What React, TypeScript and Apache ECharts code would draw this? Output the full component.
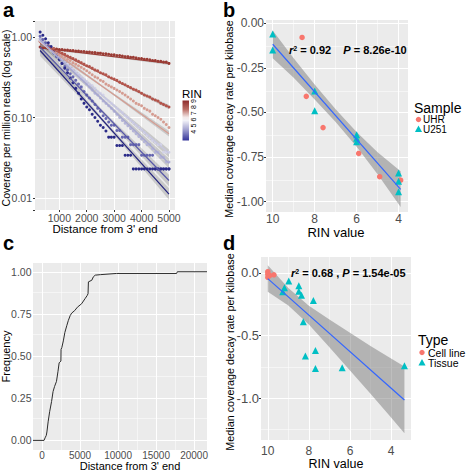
import React, { useEffect, useRef } from 'react';
import * as echarts from 'echarts';

const FONT = '"Liberation Sans", Arial, Helvetica, sans-serif';

// ---------------- Panel a: coverage vs distance, by RIN ----------------
const distA = [300, 400, 500, 600, 700, 800, 900, 1000, 1100, 1200, 1300, 1400, 1500, 1600, 1700, 1800, 1900, 2000, 2100, 2200, 2300, 2400, 2500, 2600, 2700, 2800, 2900, 3000, 3100, 3200, 3300, 3400, 3500, 3600, 3700, 3800, 3900, 4000, 4100, 4200, 4300, 4400, 4500, 4600, 4700, 4800, 4900, 5000];
const covRin10 = [0.75, 0.73, 0.74, 0.72, 0.72, 0.71, 0.71, 0.70, 0.70, 0.69, 0.69, 0.68, 0.68, 0.67, 0.67, 0.66, 0.66, 0.65, 0.65, 0.64, 0.64, 0.63, 0.63, 0.62, 0.62, 0.61, 0.60, 0.60, 0.59, 0.59, 0.58, 0.57, 0.57, 0.56, 0.56, 0.55, 0.54, 0.54, 0.53, 0.53, 0.52, 0.51, 0.51, 0.50, 0.50, 0.49, 0.49, 0.47];
const covRin9 = [0.88, 0.84, 0.80, 0.78, 0.74, 0.72, 0.68, 0.66, 0.63, 0.61, 0.58, 0.56, 0.54, 0.52, 0.50, 0.48, 0.46, 0.44, 0.43, 0.41, 0.39, 0.38, 0.36, 0.35, 0.34, 0.32, 0.31, 0.30, 0.29, 0.275, 0.265, 0.255, 0.245, 0.235, 0.225, 0.22, 0.21, 0.20, 0.19, 0.185, 0.18, 0.17, 0.165, 0.16, 0.15, 0.145, 0.14, 0.135];
const covRin8 = [0.89, 0.85, 0.81, 0.76, 0.73, 0.69, 0.66, 0.62, 0.59, 0.56, 0.53, 0.51, 0.48, 0.46, 0.44, 0.42, 0.40, 0.38, 0.36, 0.34, 0.32, 0.31, 0.29, 0.28, 0.26, 0.25, 0.24, 0.23, 0.22, 0.21, 0.20, 0.19, 0.18, 0.17, 0.16, 0.15, 0.145, 0.14, 0.13, 0.125, 0.12, 0.11, 0.105, 0.10, 0.095, 0.088, 0.082, 0.075];
const covRin7 = [0.91, 0.85, 0.80, 0.74, 0.69, 0.65, 0.61, 0.56, 0.53, 0.49, 0.46, 0.43, 0.40, 0.37, 0.35, 0.32, 0.30, 0.28, 0.26, 0.25, 0.23, 0.21, 0.20, 0.19, 0.17, 0.16, 0.15, 0.14, 0.13, 0.12, 0.115, 0.105, 0.10, 0.092, 0.086, 0.08, 0.075, 0.07, 0.065, 0.06, 0.056, 0.052, 0.049, 0.046, 0.046, 0.037, 0.037, 0.037];
const covRin6 = [0.95, 0.88, 0.82, 0.76, 0.70, 0.65, 0.60, 0.56, 0.52, 0.48, 0.44, 0.41, 0.38, 0.35, 0.33, 0.30, 0.28, 0.26, 0.24, 0.22, 0.20, 0.19, 0.175, 0.16, 0.15, 0.14, 0.13, 0.12, 0.11, 0.10, 0.092, 0.085, 0.079, 0.073, 0.068, 0.063, 0.058, 0.054, 0.050, 0.046, 0.046, 0.041, 0.037, 0.037, 0.032, 0.032, 0.028, 0.028];
const covRin5 = [1.02, 0.93, 0.85, 0.77, 0.70, 0.63, 0.57, 0.52, 0.47, 0.43, 0.39, 0.35, 0.32, 0.29, 0.26, 0.24, 0.21, 0.19, 0.175, 0.16, 0.145, 0.13, 0.12, 0.105, 0.097, 0.088, 0.08, 0.08, 0.069, 0.069, 0.057, 0.057, 0.057, 0.046, 0.046, 0.046, 0.046, 0.034, 0.034, 0.034, 0.034, 0.034, 0.023, 0.023, 0.023, 0.023, 0.023, 0.023];
const covRin4 = [1.15, 1.05, 0.95, 0.85, 0.76, 0.68, 0.60, 0.53, 0.47, 0.41, 0.36, 0.31, 0.27, 0.23, 0.20, 0.17, 0.15, 0.135, 0.125, 0.11, 0.10, 0.09, 0.08, 0.075, 0.068, 0.057, 0.057, 0.057, 0.045, 0.045, 0.045, 0.034, 0.034, 0.034, 0.023, 0.023, 0.023, 0.023, 0.023, 0.023, 0.023, 0.023, 0.023, 0.023, 0.023, 0.023, 0.023, 0.023];
const fitXA = [300, 5000];
const fitStartA = [0.735, 0.84, 0.86, 0.88, 0.92, 0.75, 0.68];
const fitEndA = [0.47, 0.135, 0.063, 0.036, 0.027, 0.0165, 0.0112];
const ribXA = [300, 2650, 5000];
const ribLoA = [
  [0.702, 0.577, 0.449],
  [0.793, 0.329, 0.127],
  [0.793, 0.227, 0.058],
  [0.784, 0.172, 0.032],
  [0.801, 0.152, 0.0235],
  [0.638, 0.106, 0.014],
  [0.579, 0.0834, 0.0095],
];
const ribHiA = [
  [0.770, 0.599, 0.492],
  [0.890, 0.345, 0.143],
  [0.932, 0.240, 0.068],
  [0.987, 0.184, 0.040],
  [1.056, 0.165, 0.031],
  [0.881, 0.116, 0.0194],
  [0.799, 0.0914, 0.0132],
];
const rinLegendTicks = [9, 8, 7, 6, 5, 4];
const aXTicks = [1000, 2000, 3000, 4000, 5000];
const aXMinor = [500, 1500, 2500, 3500, 4500];
const aYTicks = [0.01, 0.1, 1];
const aYMinor = [0.0316, 0.316];

// ---------------- Panel b ----------------
const uhrRin = [8.6, 8.4, 7.6, 5.9, 4.9, 3.9];
const uhrRate = [-0.08, -0.41, -0.585, -0.73, -0.86, -0.88];
const u251Rin = [10, 10, 8, 8, 6, 6, 6, 4, 4, 4];
const u251Rate = [-0.06, -0.15, -0.38, -0.49, -0.625, -0.645, -0.665, -0.84, -0.885, -0.945];
const fitXB = [10, 3.9];
const fitYB = [-0.118, -0.931];
const ribXB = [10, 9, 8, 7, 6, 5, 3.9];
const ribLoB = [-0.196, -0.306, -0.427, -0.554, -0.693, -0.847, -1.03];
const ribHiB = [-0.041, -0.196, -0.343, -0.482, -0.609, -0.723, -0.83];
const bXTicks = [4, 6, 8, 10];
const bXMinor = [5, 7, 9];
const bYTicks = [0, -0.25, -0.5, -0.75, -1];
const bYMinor = [-0.125, -0.375, -0.625, -0.875];

// ---------------- Panel c ----------------
const ecdfDist = [265, 400, 560, 640, 800, 1000, 1250, 1450, 1650, 1900, 2100, 2250, 2480, 2500, 2600, 2800, 3000, 3250, 3450, 3700, 3900, 4300, 4650, 5200, 5650, 5950, 6050, 6100, 6550, 6750, 7000, 7700, 9800, 17700, 17800];
const ecdfFreq = [0, 0.015, 0.03, 0.05, 0.11, 0.17, 0.23, 0.29, 0.32, 0.35, 0.41, 0.46, 0.47, 0.54, 0.55, 0.59, 0.64, 0.68, 0.71, 0.74, 0.755, 0.77, 0.79, 0.81, 0.84, 0.86, 0.87, 0.94, 0.95, 0.97, 0.98, 0.983, 0.99, 0.99, 1.0];
const cXTicks = [0, 5000, 10000, 15000, 20000];
const cXMinor = [2500, 7500, 12500, 17500];
const cYTicks = [0, 0.25, 0.5, 0.75, 1];
const cYMinor = [0.125, 0.375, 0.625, 0.875];

// ---------------- Panel d ----------------
const cellRin = [10, 10, 10, 9.9, 9.7];
const cellRate = [0.01, -0.01, -0.035, -0.02, -0.015];
const tissueRin = [8.98, 9.19, 9.27, 8.49, 8.49, 8.36, 7.78, 8.27, 8.17, 7.68, 7.68, 6.38, 3.35];
const tissueRate = [-0.064, -0.119, -0.151, -0.103, -0.146, -0.178, -0.22, -0.39, -0.663, -0.618, -0.761, -0.756, -0.74];
const fitXD = [10, 3.35];
const fitYD = [-0.045, -1.013];
const ribXD = [10, 9, 8, 7, 6, 5, 4, 3.35];
const ribLoD = [-0.151, -0.26, -0.411, -0.592, -0.777, -0.963, -1.153, -1.279];
const ribHiD = [0.061, -0.12, -0.261, -0.372, -0.477, -0.583, -0.683, -0.747];
const dXTicks = [4, 6, 8, 10];
const dXMinor = [5, 7, 9];
const dYTicks = [0, -0.5, -1];
const dYMinor = [-0.25, -0.75, -1.25];

// ---------------- styles ----------------
const dotColA = ['#9a3b34', '#b3554c', '#d59c91', '#d3d3e8', '#b4b4d8', '#6565b0', '#2a2a88'];
const lineColA = ['#9a3b34', '#b3554c', '#d59c91', '#c6c6e0', '#a6a6d0', '#5757a8', '#23237e'];
const RED = '#F8766D';
const TEAL = '#00BFC4';
const RIBBON = 'rgba(110,110,110,0.45)';

const zip = (a: number[], b: number[]) => a.map((v, i) => [v, b[i]]);

function gridLines(xi: number, xMaj: number[], xMin: number[], yMaj: number[], yMin: number[]) {
  const d: any[] = [];
  xMin.forEach((v) => d.push({ xAxis: v, lineStyle: { width: 0.5 } }));
  yMin.forEach((v) => d.push({ yAxis: v, lineStyle: { width: 0.5 } }));
  xMaj.forEach((v) => d.push({ xAxis: v }));
  yMaj.forEach((v) => d.push({ yAxis: v }));
  return {
    type: 'scatter',
    xAxisIndex: xi,
    yAxisIndex: xi,
    data: [],
    silent: true,
    markLine: {
      silent: true,
      z: 1,
      symbol: ['none', 'none'],
      animation: false,
      label: { show: false },
      emphasis: { disabled: true },
      lineStyle: { color: '#ffffff', width: 1, type: 'solid', opacity: 1 },
      data: d,
    },
  };
}

function ribbon(xi: number, xs: number[], lo: number[], hi: number[], fill: string) {
  return {
    type: 'custom',
    xAxisIndex: xi,
    yAxisIndex: xi,
    silent: true,
    data: xs.map((x, i) => [x, lo[i], hi[i]]),
    encode: { x: 0, y: [1, 2] },
    renderItem: (params: any, api: any) => {
      if (params.dataIndex !== 0) return null;
      const top = xs.map((x, i) => api.coord([x, hi[i]]));
      const bot = xs.map((x, i) => api.coord([x, lo[i]])).reverse();
      return { type: 'polygon', shape: { points: top.concat(bot) }, style: { fill } };
    },
  };
}

function xAx(gi: number, min: number, max: number, ticks: number[], fontSize: number, margin: number, inverse: boolean) {
  return {
    type: 'value',
    gridIndex: gi,
    min,
    max,
    inverse,
    axisLine: { show: false },
    splitLine: { show: false },
    axisTick: { show: true, length: 2, lineStyle: { color: '#333333', width: 1 }, customValues: ticks },
    axisLabel: {
      customValues: ticks,
      fontSize,
      fontFamily: FONT,
      color: '#4d4d4d',
      margin,
      formatter: (v: number) => String(v),
    },
  };
}

function yAx(gi: number, min: number, max: number, ticks: number[], fontSize: number, margin: number, digits: number) {
  return {
    type: 'value',
    gridIndex: gi,
    min,
    max,
    axisLine: { show: false },
    splitLine: { show: false },
    axisTick: { show: true, length: 2, lineStyle: { color: '#333333', width: 1 }, customValues: ticks },
    axisLabel: {
      customValues: ticks,
      fontSize,
      fontFamily: FONT,
      color: '#4d4d4d',
      margin,
      formatter: (v: number) => Number(v).toFixed(digits),
    },
  };
}

function txt(text: string, x: number, y: number, fontSize: number, o: any = {}) {
  return {
    type: 'text',
    x,
    y,
    z: 100,
    silent: true,
    rotation: o.rotation || 0,
    style: {
      text,
      fontSize,
      fontFamily: FONT,
      fontWeight: o.weight || 'normal',
      fill: o.fill || '#000000',
      textAlign: o.align || 'center',
      textVerticalAlign: 'middle',
      align: o.align || 'center',
      verticalAlign: 'middle',
    },
  };
}

function annot(r2: string, p: string, sep: string, x: number, y: number) {
  return {
    type: 'text',
    x,
    y,
    z: 100,
    silent: true,
    style: {
      text: `{i|r}{s|2}{n| = ${r2}${sep}}{i|P}{n| = ${p}}`,
      fontFamily: FONT,
      fill: '#000000',
      textAlign: 'left',
      align: 'left',
      textVerticalAlign: 'middle',
      verticalAlign: 'middle',
      rich: {
        i: { fontStyle: 'italic', fontWeight: 'bold', fontSize: 11, fontFamily: FONT, fill: '#000' },
        s: { fontWeight: 'bold', fontSize: 7, fontFamily: FONT, verticalAlign: 'top', fill: '#000' },
        n: { fontWeight: 'bold', fontSize: 11, fontFamily: FONT, fill: '#000' },
      },
    },
  };
}

function tri(cx: number, cy: number, s: number, fill: string) {
  return {
    type: 'polygon',
    z: 100,
    silent: true,
    shape: { points: [[cx, cy - s * 0.6], [cx + s * 0.55, cy + s * 0.4], [cx - s * 0.55, cy + s * 0.4]] },
    style: { fill },
  };
}

const isDecade = (v: number) => {
  const l = Math.log10(v);
  return Math.abs(l - Math.round(l)) < 1e-6;
};

function buildOption() {
  const gridBase = { show: true, backgroundColor: '#EBEBEB', borderWidth: 0, borderColor: 'transparent', containLabel: false, outerBoundsMode: 'none', z: 0 };
  const grid = [
    { ...gridBase, left: 35, top: 21, width: 140, height: 189 },
    { ...gridBase, left: 266, top: 20, width: 142, height: 192 },
    { ...gridBase, left: 33, top: 263, width: 174, height: 187 },
    { ...gridBase, left: 261, top: 257, width: 150, height: 183 },
  ];

  const xAxis = [
    xAx(0, 114, 5219, aXTicks, 10.5, 2, false),
    xAx(1, 3.55, 10.32, bXTicks, 12, 1, true),
    xAx(2, -1190, 21700, cXTicks, 10, 0, false),
    xAx(3, 3.03, 10.33, dXTicks, 12, 5, true),
  ];
  const yAxis: any[] = [
    {
      type: 'log',
      logBase: 10,
      gridIndex: 0,
      min: 0.0071,
      max: 1.58,
      axisLine: { show: false },
      splitLine: { show: false },
      minorSplitLine: { show: false },
      axisTick: { show: true, length: 2, lineStyle: { color: '#333333', width: 1 } },
      axisLabel: {
        fontSize: 10.5,
        fontFamily: FONT,
        color: '#4d4d4d',
        margin: 3,
        showMinLabel: true,
        showMaxLabel: true,
        formatter: (v: number) => (isDecade(Number(v)) ? Number(v).toFixed(2) : ''),
      },
    },
    yAx(1, -1.058, 0.018, bYTicks, 12, 2, 2),
    yAx(2, -0.057, 1.052, cYTicks, 10.5, 1.5, 2),
    yAx(3, -1.332, 0.127, dYTicks, 13, 2, 1),
  ];

  const series: any[] = [];
  // panel a
  series.push(gridLines(0, aXTicks, aXMinor, aYTicks, aYMinor));
  const covA = [covRin10, covRin9, covRin8, covRin7, covRin6, covRin5, covRin4];
  covA.forEach((arr, k) => {
    series.push({
      type: 'scatter',
      xAxisIndex: 0,
      yAxisIndex: 0,
      silent: true,
      symbol: 'circle',
      symbolSize: 3,
      itemStyle: { color: dotColA[k], opacity: 1 },
      data: zip(distA, arr),
    });
  });
  covA.forEach((_, k) => {
    series.push(ribbon(0, ribXA, ribLoA[k], ribHiA[k], 'rgba(120,120,120,0.3)'));
  });
  covA.forEach((_, k) => {
    series.push({
      type: 'line',
      xAxisIndex: 0,
      yAxisIndex: 0,
      silent: true,
      symbol: 'none',
      lineStyle: { color: lineColA[k], width: 1.2 },
      data: zip(fitXA, [fitStartA[k], fitEndA[k]]),
    });
  });

  // panel b
  series.push(gridLines(1, bXTicks, bXMinor, bYTicks, bYMinor));
  series.push(ribbon(1, ribXB, ribLoB, ribHiB, RIBBON));
  series.push({ type: 'line', xAxisIndex: 1, yAxisIndex: 1, silent: true, symbol: 'none', lineStyle: { color: '#3366FF', width: 1.2 }, data: zip(fitXB, fitYB) });
  series.push({ type: 'scatter', xAxisIndex: 1, yAxisIndex: 1, silent: true, symbol: 'circle', symbolSize: 5.5, itemStyle: { color: RED, opacity: 1 }, data: zip(uhrRin, uhrRate) });
  series.push({ type: 'scatter', xAxisIndex: 1, yAxisIndex: 1, silent: true, symbol: 'triangle', symbolSize: 7, itemStyle: { color: TEAL, opacity: 1 }, data: zip(u251Rin, u251Rate) });

  // panel c
  series.push(gridLines(2, cXTicks, cXMinor, cYTicks, cYMinor));
  const ecdfData = [[xAxis[2].min, 0], ...zip(ecdfDist, ecdfFreq), [xAxis[2].max, 1]];
  series.push({ type: 'line', xAxisIndex: 2, yAxisIndex: 2, silent: true, symbol: 'none', lineStyle: { color: '#2b2b2b', width: 1 }, data: ecdfData });

  // panel d
  series.push(gridLines(3, dXTicks, dXMinor, dYTicks, dYMinor));
  series.push(ribbon(3, ribXD, ribLoD, ribHiD, RIBBON));
  series.push({ type: 'line', xAxisIndex: 3, yAxisIndex: 3, silent: true, symbol: 'none', lineStyle: { color: '#3366FF', width: 1.2 }, data: zip(fitXD, fitYD) });
  series.push({ type: 'scatter', xAxisIndex: 3, yAxisIndex: 3, silent: true, symbol: 'circle', symbolSize: 5.5, itemStyle: { color: RED, opacity: 1 }, data: zip(cellRin, cellRate) });
  series.push({ type: 'scatter', xAxisIndex: 3, yAxisIndex: 3, silent: true, symbol: 'triangle', symbolSize: 7, itemStyle: { color: TEAL, opacity: 1 }, data: zip(tissueRin, tissueRate) });

  const gradient = new echarts.graphic.LinearGradient(0, 0, 0, 1, [
    { offset: 0, color: '#8e2c2c' },
    { offset: 0.22, color: '#bb6e66' },
    { offset: 0.42, color: '#f3e9e9' },
    { offset: 0.5, color: '#f2f2f8' },
    { offset: 0.72, color: '#a5a5d2' },
    { offset: 1, color: '#35359a' },
  ]);

  const graphic: any[] = [
    // panel letters
    txt('a', 3, 10, 20, { weight: 'bold', align: 'left' }),
    txt('b', 223, 10, 20, { weight: 'bold', align: 'left' }),
    txt('c', 3, 243, 20, { weight: 'bold', align: 'left' }),
    txt('d', 223, 243, 20, { weight: 'bold', align: 'left' }),
    // panel a titles
    txt('Coverage per million reads (log scale)', 6.3, 118, 10.5, { rotation: Math.PI / 2 }),
    txt("Distance from 3' end", 105, 228.5, 11.5),
    // RIN colourbar legend
    txt('RIN', 182, 94, 11.5, { align: 'left' }),
    { type: 'rect', z: 100, silent: true, shape: { x: 182.5, y: 100.5, width: 6.5, height: 40 }, style: { fill: gradient } },
    ...rinLegendTicks.map((v) => txt(String(v), 193.5, 101 + (9 - v) * 6.15, 7, { rotation: Math.PI / 2 })),
    // panel b
    txt('Median coverage decay rate per kilobase', 228.5, 119, 10.8, { rotation: Math.PI / 2 }),
    txt('RIN value', 336, 232.5, 13),
    annot('0.92', '8.26e-10', '    ', 289, 50),
    txt('Sample', 414, 107.5, 14, { align: 'left' }),
    { type: 'circle', z: 100, silent: true, shape: { cx: 418.5, cy: 119.5, r: 2.7 }, style: { fill: RED } },
    txt('UHR', 423, 119.5, 10, { align: 'left' }),
    tri(418.5, 129.5, 6.5, TEAL),
    txt('U251', 423, 129.5, 10, { align: 'left' }),
    // panel c
    txt('Frequency', 5.5, 356.5, 11, { rotation: Math.PI / 2 }),
    txt("Distance from 3' end", 130, 465.5, 11),
    // panel d
    txt('Median coverage decay rate per kilobase', 230, 352, 10.8, { rotation: Math.PI / 2 }),
    txt('RIN value', 336, 464, 12.5),
    annot('0.68', '1.54e-05', ' , ', 291, 273),
    txt('Type', 418, 340, 14, { align: 'left' }),
    { type: 'circle', z: 100, silent: true, shape: { cx: 422, cy: 352.5, r: 2.7 }, style: { fill: RED } },
    txt('Cell line', 428, 352.5, 10.5, { align: 'left' }),
    tri(422, 363, 6.5, TEAL),
    txt('Tissue', 428, 363, 10.5, { align: 'left' }),
  ];

  return {
    animation: false,
    backgroundColor: '#ffffff',
    textStyle: { fontFamily: FONT },
    grid,
    xAxis,
    yAxis,
    series,
    graphic,
  };
}

export default function App() {
  const ref = useRef<HTMLDivElement>(null);
  useEffect(() => {
    if (!ref.current) return;
    const chart = echarts.init(ref.current, null, { renderer: 'svg' });
    chart.setOption(buildOption() as any);
    return () => chart.dispose();
  }, []);
  return <div ref={ref} style={{ position: 'fixed', left: 0, top: 0, width: 472, height: 470 }} />;
}
